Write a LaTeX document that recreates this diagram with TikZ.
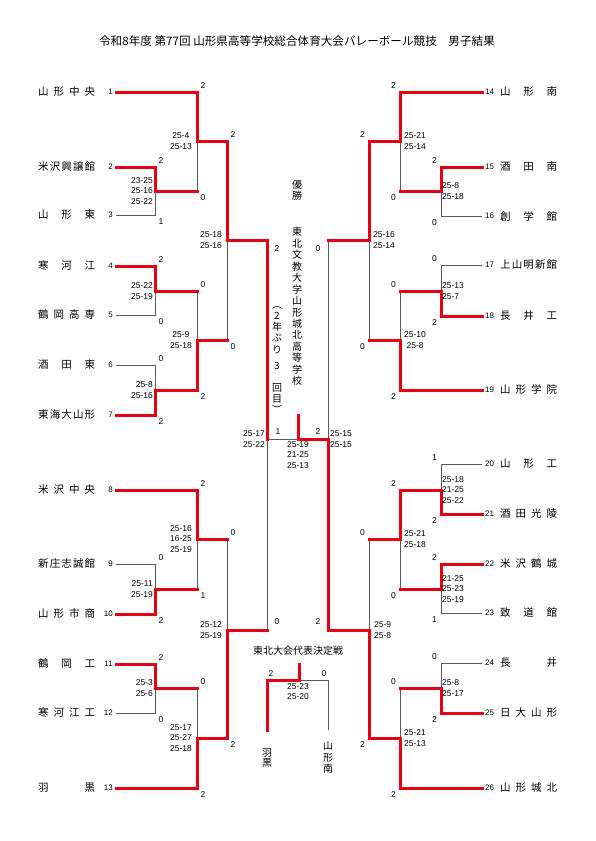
\documentclass[tikz,border=0pt]{standalone}
\usepackage{fontspec}
\setmainfont{Liberation Sans}
\newfontfamily\jp{Noto Sans CJK JP}
\definecolor{akaline}{RGB}{228,0,18}
\definecolor{haiiro}{RGB}{90,90,90}

\begin{document}
\begin{tikzpicture}[
        x=1pt, y=-1pt,
        kachisen/.style={draw=akaline, line width=3pt, line cap=rect},
        makesen/.style={draw=haiiro, line width=0.8pt},
        kou/.style={font=\jp\fontsize{10.5}{12}\selectfont, text width=57pt, align=left, inner sep=0pt, anchor=west},
        bango/.style={font=\fontsize{8}{9}\selectfont, inner xsep=3pt, inner ysep=0pt},
        shosu/.style={font=\fontsize{8.5}{9}\selectfont, inner sep=0pt},
        tokuten/.style={font=\fontsize{8.5}{10.5}\selectfont, inner sep=0pt},
        tokl/.style={tokuten, anchor=east, align=right},
        tokr/.style={tokuten, anchor=west, align=left},
        tate/.style={font=\jp\fontsize{10}{11.5}\selectfont, align=center, inner sep=0pt}
    ]
    \useasboundingbox (0,0) rectangle (595,841);
    \node[font=\jp\fontsize{11.6}{13}\selectfont] (title) at (297,41) {令和8年度 第77回 山形県高等学校総合体育大会バレーボール競技　男子結果};

    % left side
    \node[kou] (n1) at (38,92) {山\hfill 形\hfill 中\hfill 央};
    \node[kou] (n2) at (38,167) {米\hfill 沢\hfill 興\hfill 譲\hfill 館};
    \node[kou] (n3) at (38,215) {山\hfill 形\hfill 東};
    \node[kou] (n4) at (38,266) {寒\hfill 河\hfill 江};
    \node[kou] (n5) at (38,315) {鶴\hfill 岡\hfill 高\hfill 専};
    \node[kou] (n6) at (38,365) {酒\hfill 田\hfill 東};
    \node[kou] (n7) at (38,415) {東\hfill 海\hfill 大\hfill 山\hfill 形};
    \node[kou] (n8) at (38,490) {米\hfill 沢\hfill 中\hfill 央};
    \node[kou] (n9) at (38,564) {新\hfill 庄\hfill 志\hfill 誠\hfill 館};
    \node[kou] (n10) at (38,614) {山\hfill 形\hfill 市\hfill 商};
    \node[kou] (n11) at (38,664) {鶴\hfill 岡\hfill 工};
    \node[kou] (n12) at (38,713) {寒\hfill 河\hfill 江\hfill 工};
    \node[kou] (n13) at (38,788) {羽\hfill 黒};
    \node[bango, anchor=east] (s1) at (116,92) {1};
    \node[bango, anchor=east] (s2) at (116,167) {2};
    \node[bango, anchor=east] (s3) at (116,215) {3};
    \node[bango, anchor=east] (s4) at (116,266) {4};
    \node[bango, anchor=east] (s5) at (116,315) {5};
    \node[bango, anchor=east] (s6) at (116,365) {6};
    \node[bango, anchor=east] (s7) at (116,415) {7};
    \node[bango, anchor=east] (s8) at (116,490) {8};
    \node[bango, anchor=east] (s9) at (116,564) {9};
    \node[bango, anchor=east] (s10) at (116,614) {10};
    \node[bango, anchor=east] (s11) at (116,664) {11};
    \node[bango, anchor=east] (s12) at (116,713) {12};
    \node[bango, anchor=east] (s13) at (116,788) {13};

    % right side
    \node[bango, anchor=west] (s14) at (482,92) {14};
    \node[bango, anchor=west] (s15) at (482,167) {15};
    \node[bango, anchor=west] (s16) at (482,216) {16};
    \node[bango, anchor=west] (s17) at (482,265) {17};
    \node[bango, anchor=west] (s18) at (482,316) {18};
    \node[bango, anchor=west] (s19) at (482,390) {19};
    \node[bango, anchor=west] (s20) at (482,464) {20};
    \node[bango, anchor=west] (s21) at (482,514) {21};
    \node[bango, anchor=west] (s22) at (482,564) {22};
    \node[bango, anchor=west] (s23) at (482,613) {23};
    \node[bango, anchor=west] (s24) at (482,663) {24};
    \node[bango, anchor=west] (s25) at (482,713) {25};
    \node[bango, anchor=west] (s26) at (482,788) {26};
    \node[kou] (n14) at (500,92) {山\hfill 形\hfill 南};
    \node[kou] (n15) at (500,167) {酒\hfill 田\hfill 南};
    \node[kou] (n16) at (500,216) {創\hfill 学\hfill 館};
    \node[kou] (n17) at (500,265) {上\hfill 山\hfill 明\hfill 新\hfill 館};
    \node[kou] (n18) at (500,316) {長\hfill 井\hfill 工};
    \node[kou] (n19) at (500,390) {山\hfill 形\hfill 学\hfill 院};
    \node[kou] (n20) at (500,464) {山\hfill 形\hfill 工};
    \node[kou] (n21) at (500,514) {酒\hfill 田\hfill 光\hfill 陵};
    \node[kou] (n22) at (500,564) {米\hfill 沢\hfill 鶴\hfill 城};
    \node[kou] (n23) at (500,613) {致\hfill 道\hfill 館};
    \node[kou] (n24) at (500,663) {長\hfill 井};
    \node[kou] (n25) at (500,713) {日\hfill 大\hfill 山\hfill 形};
    \node[kou] (n26) at (500,788) {山\hfill 形\hfill 城\hfill 北};

    % match points
    \coordinate (l23) at (155,191);
    \coordinate (l1) at (197,141);
    \coordinate (l45) at (155,291);
    \coordinate (l67) at (155,390);
    \coordinate (l47) at (197,340);
    \coordinate (lq1) at (227,240);
    \coordinate (l910) at (155,589);
    \coordinate (l8) at (197,539);
    \coordinate (l1112) at (155,688);
    \coordinate (l13) at (197,738);
    \coordinate (lq2) at (227,630);
    \coordinate (lsemi) at (267,439);
    \coordinate (r1516) at (441,191);
    \coordinate (r14) at (400,141);
    \coordinate (r1718) at (441,291);
    \coordinate (r19) at (400,340);
    \coordinate (rq1) at (369,240);
    \coordinate (r2021) at (441,490);
    \coordinate (r2223) at (441,589);
    \coordinate (r2023) at (400,539);
    \coordinate (r2425) at (441,688);
    \coordinate (r26) at (400,738);
    \coordinate (rq2) at (369,630);
    \coordinate (rsemi) at (328,439);
    \coordinate (kesho) at (298,439);
    \coordinate (yusen) at (298,415);

    % lost
    \draw[makesen] (s3.east) -| (l23);
    \draw[makesen] (s5.east) -| (l45);
    \draw[makesen] (s6.east) -| (l67);
    \draw[makesen] (s9.east) -| (l910);
    \draw[makesen] (s12.east) -| (l1112);
    \draw[makesen] (l23 -| l1) -- (l1);
    \draw[makesen] (l45 -| l47) -- (l47);
    \draw[makesen] (l47 -| lq1) -- (lq1);
    \draw[makesen] (l910 -| l8) -- (l8);
    \draw[makesen] (l8 -| lq2) -- (lq2);
    \draw[makesen] (l1112 -| l13) -- (l13);
    \draw[makesen] (lq2 -| lsemi) -- (lsemi);
    \draw[makesen] (lsemi) -- (kesho);
    \draw[makesen] (s16.west) -| (r1516);
    \draw[makesen] (s17.west) -| (r1718);
    \draw[makesen] (s20.west) -| (r2021);
    \draw[makesen] (s23.west) -| (r2223);
    \draw[makesen] (s24.west) -| (r2425);
    \draw[makesen] (r1516 -| r14) -- (r14);
    \draw[makesen] (r1718 -| r19) -- (r19);
    \draw[makesen] (r19 -| rq1) -- (rq1);
    \draw[makesen] (r2223 -| r2023) -- (r2023);
    \draw[makesen] (r2023 -| rq2) -- (rq2);
    \draw[makesen] (r2425 -| r26) -- (r26);
    \draw[makesen] (rq1 -| rsemi) -- (rsemi);

    % won
    \draw[kachisen] (s1.east) -| (l1) -| (lq1) -| (lsemi);
    \draw[kachisen] (s2.east) -| (l23) -- (l23 -| l1);
    \draw[kachisen] (s4.east) -| (l45) -- (l45 -| l47);
    \draw[kachisen] (s7.east) -| (l67) -| (l47) -- (l47 -| lq1);
    \draw[kachisen] (s8.east) -| (l8) -- (l8 -| lq2);
    \draw[kachisen] (s10.east) -| (l910) -- (l910 -| l8);
    \draw[kachisen] (s11.east) -| (l1112) -- (l1112 -| l13);
    \draw[kachisen] (s13.east) -| (l13) -| (lq2) -- (lq2 -| lsemi);
    \draw[kachisen] (s14.west) -| (r14) -| (rq1) -- (rq1 -| rsemi);
    \draw[kachisen] (s15.west) -| (r1516) -- (r1516 -| r14);
    \draw[kachisen] (s18.west) -| (r1718) -- (r1718 -| r19);
    \draw[kachisen] (s19.west) -| (r19) -- (r19 -| rq1);
    \draw[kachisen] (s21.west) -| (r2021) -| (r2023) -- (r2023 -| rq2);
    \draw[kachisen] (s22.west) -| (r2223) -- (r2223 -| r2023);
    \draw[kachisen] (s25.west) -| (r2425) -- (r2425 -| r26);
    \draw[kachisen] (s26.west) -| (r26) -| (rq2) -| (rsemi) -- (kesho) -- (yusen);

    % sets and scores, left
    \node[shosu] (l23t) at (161,160.5) {2};
    \node[shosu] (l23b) at (161,221.5) {1};
    \node[tokl] (l23p) at (153,191) {23-25\\25-16\\25-22};
    \node[shosu] (l1t) at (203,85.5) {2};
    \node[shosu] (l1b) at (203,197.5) {0};
    \node[tokl, align=center] (l1p) at (192,141) {25-4\\25-13};
    \node[shosu] (l45t) at (161,259.5) {2};
    \node[shosu] (l45b) at (161,321.5) {0};
    \node[tokl] (l45p) at (153,291) {25-22\\25-19};
    \node[shosu] (l67t) at (161,358.5) {0};
    \node[shosu] (l67b) at (161,421.5) {2};
    \node[tokl] (l67p) at (153,390) {25-8\\25-16};
    \node[shosu] (l47t) at (203,284.5) {0};
    \node[shosu] (l47b) at (203,396.5) {2};
    \node[tokl, align=center] (l47p) at (192,340) {25-9\\25-18};
    \node[shosu] (lq1t) at (233,134.5) {2};
    \node[shosu] (lq1b) at (233,346.5) {0};
    \node[tokl] (lq1p) at (222,240) {25-18\\25-16};
    \node[shosu] (l910t) at (161,557.5) {0};
    \node[shosu] (l910b) at (161,620.5) {2};
    \node[tokl] (l910p) at (153,589) {25-11\\25-19};
    \node[shosu] (l8t) at (203,483.5) {2};
    \node[shosu] (l8b) at (203,595.5) {1};
    \node[tokl] (l8p) at (192,539) {25-16\\16-25\\25-19};
    \node[shosu] (l1112t) at (161,657.5) {2};
    \node[shosu] (l1112b) at (161,719.5) {0};
    \node[tokl] (l1112p) at (153,688) {25-3\\25-6};
    \node[shosu] (l13t) at (203,681.5) {0};
    \node[shosu] (l13b) at (203,794.5) {2};
    \node[tokl] (l13p) at (192,738) {25-17\\25-27\\25-18};
    \node[shosu] (lq2t) at (233,532.5) {0};
    \node[shosu] (lq2b) at (233,744.5) {2};
    \node[tokl] (lq2p) at (222,630) {25-12\\25-19};

    % semifinals and final
    \node[shosu] (lsemit) at (277,249) {2};
    \node[shosu] (lsemib) at (277,622) {0};
    \node[tokl] (lsemip) at (265,439) {25-17\\25-22};
    \node[shosu] (rsemit) at (318,249) {0};
    \node[shosu] (rsemib) at (318,622) {2};
    \node[tokr] (rsemip) at (330,439) {25-15\\25-15};
    \node[shosu] (keshol) at (278,432) {1};
    \node[shosu] (keshor) at (318,432) {2};
    \node[tokuten, align=center] (keshop) at (298,455) {25-19\\21-25\\25-13};

    % sets and scores, right
    \node[shosu] (r1516t) at (434.5,160.5) {2};
    \node[shosu] (r1516b) at (434.5,222.5) {0};
    \node[tokr] (r1516p) at (442,191) {25-8\\25-18};
    \node[shosu] (r14t) at (393.5,85.5) {2};
    \node[shosu] (r14b) at (393.5,197.5) {0};
    \node[tokr] (r14p) at (404,141) {25-21\\25-14};
    \node[shosu] (r1718t) at (434.5,258.5) {0};
    \node[shosu] (r1718b) at (434.5,322.5) {2};
    \node[tokr] (r1718p) at (442,291) {25-13\\25-7};
    \node[shosu] (r19t) at (393.5,284.5) {0};
    \node[shosu] (r19b) at (393.5,396.5) {2};
    \node[tokr, align=center] (r19p) at (404,340) {25-10\\25-8};
    \node[shosu] (rq1t) at (362.5,134.5) {2};
    \node[shosu] (rq1b) at (362.5,346.5) {0};
    \node[tokr] (rq1p) at (373,240) {25-16\\25-14};
    \node[shosu] (r2021t) at (434.5,457.5) {1};
    \node[shosu] (r2021b) at (434.5,520.5) {2};
    \node[tokr] (r2021p) at (442,490) {25-18\\21-25\\25-22};
    \node[shosu] (r2223t) at (434.5,557.5) {2};
    \node[shosu] (r2223b) at (434.5,619.5) {1};
    \node[tokr] (r2223p) at (442,589) {21-25\\25-23\\25-19};
    \node[shosu] (r2023t) at (393.5,483.5) {2};
    \node[shosu] (r2023b) at (393.5,595.5) {0};
    \node[tokr] (r2023p) at (404,539) {25-21\\25-18};
    \node[shosu] (r2425t) at (434.5,656.5) {0};
    \node[shosu] (r2425b) at (434.5,719.5) {2};
    \node[tokr] (r2425p) at (442,688) {25-8\\25-17};
    \node[shosu] (r26t) at (393.5,681.5) {0};
    \node[shosu] (r26b) at (393.5,794.5) {2};
    \node[tokr] (r26p) at (404,738) {25-21\\25-13};
    \node[shosu] (rq2t) at (362.5,532.5) {0};
    \node[shosu] (rq2b) at (362.5,744.5) {2};
    \node[tokr] (rq2p) at (374,630) {25-9\\25-8};

    % champion
    \node[tate, font=\jp\fontsize{10}{11}\selectfont] (yusho) at (297,190.5) {優\\勝};
    \node[tate, font=\jp\fontsize{10}{11.46}\selectfont] (yushoko) at (297,306.5) {東\\北\\文\\教\\大\\学\\山\\形\\城\\北\\高\\等\\学\\校};
    \node[tate, font=\jp\fontsize{10}{11.2}\selectfont] (nenburi) at (277,360) {︵\\2\\年\\ぶ\\り\\[5pt]3\\[10.5pt]回\\目\\︶};

    % Tohoku qualifier
    \node[font=\jp\fontsize{10}{12}\selectfont] (daihyo) at (298,651) {東北大会代表決定戦};
    \coordinate (kessen) at (299,680);
    \coordinate (kessenue) at (299,664);
    \coordinate (hgsen) at (267,730);
    \coordinate (ymsen) at (328,730);
    \draw[makesen] (ymsen) |- (kessen);
    \draw[kachisen] (hgsen) |- (kessen) -- (kessenue);
    \node[shosu] (kessenl) at (271,674) {2};
    \node[shosu] (kessenr) at (324,674) {0};
    \node[tokuten, align=center] (kessenp) at (298,691.5) {25-23\\25-20};
    \node[tate, font=\jp\fontsize{10}{10.5}\selectfont] (haguro) at (267,758) {羽\\黒};
    \node[tate] (yamaminami) at (328,757.5) {山\\形\\南};
\end{tikzpicture}
\end{document}
